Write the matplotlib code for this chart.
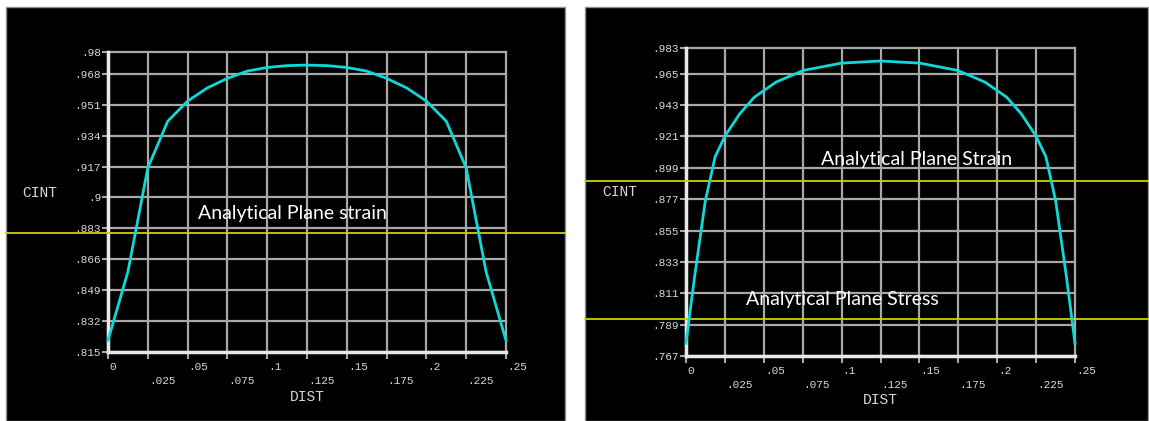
import matplotlib.pyplot as plt
from matplotlib.patches import Rectangle

W, H = 1149, 421

# x axis (shared by both plots)
dist_ticks = [0, .025, .05, .075, .1, .125, .15, .175, .2, .225, .25]
dist_labels = ['0', '.025', '.05', '.075', '.1', '.125', '.15', '.175', '.2', '.225', '.25']

# left plot: plane strain model
left_ylim = (.815, .98)
left_ylabels = ['.815', '.832', '.849', '.866', '.883', '.9', '.917', '.934', '.951', '.968', '.98']
left_dist = [0, .0125, .025, .0375, .05, .0625, .075, .0875, .1, .1125, .125,
             .1375, .15, .1625, .175, .1875, .2, .2125, .225, .2375, .25]
left_cint = [.8214, .8591, .9162, .9419, .9530, .9603, .9655, .9695, .9715, .9725, .9728,
             .9725, .9715, .9695, .9655, .9603, .9530, .9419, .9162, .8591, .8214]
left_analytical = [.8805]
left_notes = ['Analytical Plane strain']

# right plot: plane stress model
right_ylim = (.767, .983)
right_ylabels = ['.767', '.789', '.811', '.833', '.855', '.877', '.899', '.921', '.943', '.965', '.983']
right_dist = [0, .0054, .0124, .0187, .0252, .0345, .0439, .0579, .0754, .0999, .125,
              .1501, .1746, .1921, .2061, .2155, .2248, .2313, .2376, .2446, .25]
right_cint = [.7759, .8217, .8757, .9067, .9215, .9368, .9485, .9591, .9673, .9724, .9739,
              .9724, .9673, .9591, .9485, .9368, .9215, .9067, .8757, .8217, .7759]
right_analytical = [.8897, .793]
right_notes = ['Analytical Plane Strain', 'Analytical Plane Stress']

MONO = 'Liberation Mono'
GRID = '#a8a8a8'
AXIS = '#e8e8e8'
LABEL = '#d8d8d8'


def px_rect(x0, y0, x1, y1):
    return [x0 / W, 1 - y1 / H, (x1 - x0) / W, (y1 - y0) / H]


fig = plt.figure(figsize=(W / 100, H / 100), dpi=100, facecolor='white')

# black screenshot panels, kept behind the axes
for x0, x1 in [(6, 565), (585, 1148)]:
    fig.patches.append(Rectangle((x0 / W, 0), (x1 - x0) / W, 1 - 7 / H,
                                 transform=fig.transFigure, facecolor='black',
                                 edgecolor='#909090', linewidth=1, zorder=-5))


def draw_panel(box, panel, ylim, ylabels, dist, cint, lines, notes, note_pos,
               cint_xy, dist_xy):
    ax = fig.add_axes(px_rect(*box))
    ax.set_facecolor('black')
    # ticks sit at the printed values (last step is shorter)
    yticks = [float(t) for t in ylabels]

    for x in dist_ticks:
        ax.axvline(x, color=GRID, lw=1.6, zorder=1, clip_on=False)
    for y in yticks:
        ax.axhline(y, color=GRID, lw=1.6, zorder=1, clip_on=False)

    ax.plot(dist, cint, color='#10d8d8', lw=2.0, zorder=4, clip_on=False)

    # analytical values span the whole panel
    x0, x1 = box[0], box[2]
    for y in lines:
        ax.axhline(y, xmin=(panel[0] - x0) / (x1 - x0), xmax=(panel[1] - x0) / (x1 - x0),
                   color='#d0d000', lw=1.3, zorder=3, clip_on=False)

    ax.set_xlim(0, .25)
    ax.set_ylim(*ylim)
    for s in ['top', 'right']:
        ax.spines[s].set_visible(False)
    for s in ['left', 'bottom']:
        ax.spines[s].set_color(AXIS)
        ax.spines[s].set_linewidth(2.5)
        ax.spines[s].set_zorder(2)

    ax.set_xticks(dist_ticks)
    ax.set_xticklabels([])
    ax.set_yticks(yticks)
    ax.set_yticklabels(ylabels, fontfamily=MONO, fontsize=8, color=LABEL)
    ax.tick_params(axis='y', length=4, width=1.5, color=GRID, pad=1)
    ax.tick_params(axis='x', length=5, width=1.5, color=GRID)

    # staggered x labels, left aligned on the tick
    for i, (x, lab) in enumerate(zip(dist_ticks, dist_labels)):
        off = -15 if i % 2 == 0 else -29
        ax.annotate(lab, (x, ylim[0]), xytext=(1, off), textcoords='offset pixels',
                    ha='left', va='center', fontfamily=MONO, fontsize=8,
                    color=LABEL, annotation_clip=False)

    fig.text(cint_xy[0] / W, 1 - cint_xy[1] / H, 'CINT', fontfamily=MONO,
             fontsize=10.5, color=LABEL, ha='center', va='center')
    fig.text(dist_xy[0] / W, 1 - dist_xy[1] / H, 'DIST', fontfamily=MONO,
             fontsize=10.5, color=LABEL, ha='center', va='center')
    for txt, (tx, ty) in zip(notes, note_pos):
        fig.text(tx / W, 1 - ty / H, txt, fontfamily='Lato', fontsize=14,
                 color='white', ha='left', va='center', zorder=10)
    return ax


draw_panel((108, 52, 506, 352), (6, 565), left_ylim, left_ylabels, left_dist, left_cint,
           left_analytical, left_notes, [(198, 213)], (40, 193), (307, 397))
draw_panel((686, 48, 1075, 356), (585, 1148), right_ylim, right_ylabels, right_dist,
           right_cint, right_analytical, right_notes, [(821, 160), (746, 299)],
           (620, 192), (880, 400))

fig.savefig('out.png', dpi=100, facecolor='white')
